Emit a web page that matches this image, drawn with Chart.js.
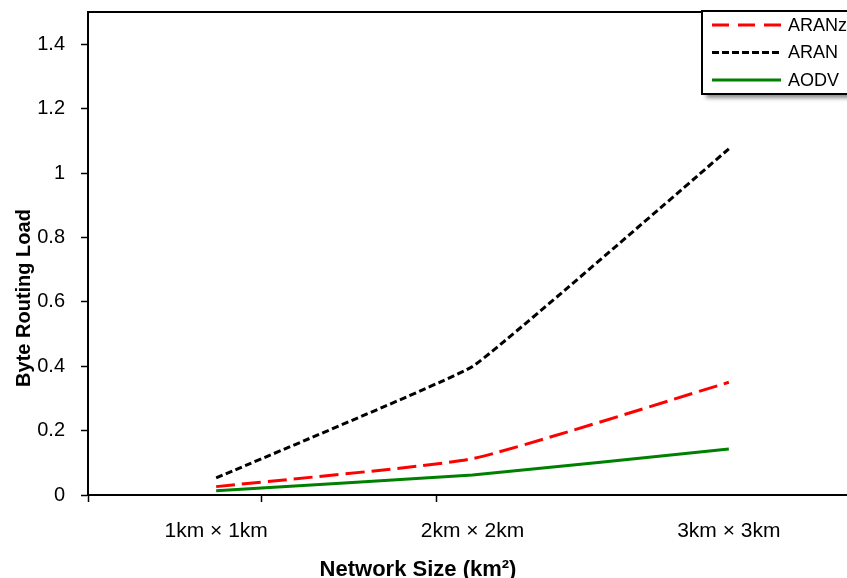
<!DOCTYPE html>
<html>
<head>
<meta charset="utf-8">
<script src="https://cdn.jsdelivr.net/npm/chart.js@4/dist/chart.umd.min.js"></script>
<style>
  html, body { margin: 0; padding: 0; overflow: hidden; background: #fff; width: 847px; height: 578px; }
  #wrap { position: absolute; left: 0; top: 0; width: 880px; height: 578px; }
</style>
</head>
<body>
<div id="wrap"><canvas id="c" width="880" height="578"></canvas></div>
<script>
// ---- data ----
const categories = ['1km \u00d7 1km', '2km \u00d7 2km', '3km \u00d7 3km'];
const seriesLabels = ['ARANz', 'ARAN', 'AODV'];
const aranzValues = [0.026, 0.113, 0.350];
const aranValues  = [0.053, 0.399, 1.075];
const aodvValues  = [0.013, 0.062, 0.143];
const yTickValues = [0, 0.2, 0.4, 0.6, 0.8, 1, 1.2, 1.4];
const xTitleText = 'Network Size (km\u00b2)';
const yTitleText = 'Byte Routing Load';

const FONT = '"Liberation Sans", Arial, Helvetica, sans-serif';
// axis tick marks (quirk of the original axis) in axis units
const xTickMarks = [0, 0.677, 1.358];
const labelPos = categories.map((c, i) => i + 0.5);

const toXY = vals => vals.map((v, i) => ({ x: i + 0.5, y: v }));

const framePlugin = {
  id: 'frame',
  afterDraw(chart) {
    const { ctx, chartArea: a } = chart;
    ctx.save();
    ctx.strokeStyle = '#000';
    ctx.lineWidth = 2;
    ctx.beginPath();
    ctx.moveTo(a.left - 1, a.top);
    ctx.lineTo(a.right, a.top);
    ctx.lineTo(a.right, a.bottom);
    ctx.stroke();

    // axis titles
    ctx.fillStyle = '#000';
    ctx.font = 'bold 22px ' + FONT;
    ctx.textAlign = 'center';
    ctx.textBaseline = 'alphabetic';
    ctx.fillText(xTitleText, a.left + 330, 576);

    ctx.save();
    ctx.translate(30, a.bottom - 197);
    ctx.rotate(-Math.PI / 2);
    ctx.font = 'bold 20px ' + FONT;
    ctx.fillText(yTitleText, 0, 0);
    ctx.restore();

    // legend
    const bx = 702, by = 11, bw = 220, bh = 83;
    ctx.save();
    ctx.shadowColor = 'rgba(0,0,0,0.45)';
    ctx.shadowOffsetX = 4;
    ctx.shadowOffsetY = 4;
    ctx.shadowBlur = 4;
    ctx.fillStyle = '#fff';
    ctx.fillRect(bx, by, bw, bh);
    ctx.restore();
    ctx.lineWidth = 2;
    ctx.strokeStyle = '#000';
    ctx.strokeRect(bx, by, bw, bh);

    const rows = [25, 52.5, 80];
    chart.data.datasets.forEach((ds, i) => {
      const y = rows[i];
      ctx.save();
      ctx.strokeStyle = ds.borderColor;
      ctx.lineWidth = ds.borderWidth;
      ctx.setLineDash(ds.legendDash || ds.borderDash || []);
      ctx.beginPath();
      ctx.moveTo(712, y);
      ctx.lineTo(781, y);
      ctx.stroke();
      ctx.restore();
      ctx.fillStyle = '#000';
      ctx.font = '18px ' + FONT;
      ctx.textAlign = 'left';
      ctx.textBaseline = 'middle';
      ctx.fillText(ds.label, 788, y + 1);
    });
    ctx.restore();
  }
};

new Chart(document.getElementById('c'), {
  type: 'line',
  data: {
    datasets: [
      { label: seriesLabels[0], data: toXY(aranzValues), borderColor: '#ff0000', borderWidth: 3,
        borderDash: [19, 7], legendDash: [17, 9], pointRadius: 0, tension: 0.15, fill: false },
      { label: seriesLabels[1], data: toXY(aranValues), borderColor: '#000000', borderWidth: 3,
        borderDash: [7, 3.5], legendDash: [7, 3], pointRadius: 0, tension: 0.08, fill: false },
      { label: seriesLabels[2], data: toXY(aodvValues), borderColor: '#008000', borderWidth: 3,
        pointRadius: 0, tension: 0.1, fill: false }
    ]
  },
  options: {
    responsive: false,
    devicePixelRatio: 1,
    animation: false,
    layout: { padding: { top: 12, right: 23, left: 0, bottom: 0 } },
    plugins: { legend: { display: false }, tooltip: { enabled: false } },
    scales: {
      x: {
        type: 'linear', min: 0, max: 3,
        afterBuildTicks: s => {
          const vals = [...xTickMarks, ...labelPos].sort((a, b) => a - b);
          s.ticks = vals.map(v => ({ value: v }));
        },
        afterFit: s => { s.height = 83; s.paddingLeft = 0; s.paddingRight = 0; },
        ticks: {
          autoSkip: false, maxRotation: 0, minRotation: 0,
          padding: 17, color: '#000',
          font: { family: FONT, size: 21 },
          callback: v => {
            const i = labelPos.indexOf(v);
            return i >= 0 ? categories[i] : '';
          }
        },
        grid: {
          display: true, drawOnChartArea: false, drawTicks: true, tickLength: 7,
          tickWidth: 1.5,
          tickColor: c => (c.tick && xTickMarks.includes(c.tick.value)) ? '#000' : 'rgba(0,0,0,0)'
        },
        border: { display: true, color: '#000', width: 2 }
      },
      y: {
        type: 'linear', min: 0, max: 1.5,
        afterBuildTicks: s => { s.ticks = yTickValues.map(v => ({ value: v })); },
        afterFit: s => { s.width = 88; s.paddingTop = 0; s.paddingBottom = 0; },
        ticks: {
          padding: 16, color: '#000',
          font: { family: FONT, size: 20 },
          callback: v => String(Math.round(v * 10) / 10)
        },
        grid: {
          display: true, drawOnChartArea: false, drawTicks: true, tickLength: 7,
          tickWidth: 1.5, tickColor: '#000'
        },
        border: { display: true, color: '#000', width: 2 }
      }
    }
  },
  plugins: [framePlugin]
});
</script>
</body>
</html>
